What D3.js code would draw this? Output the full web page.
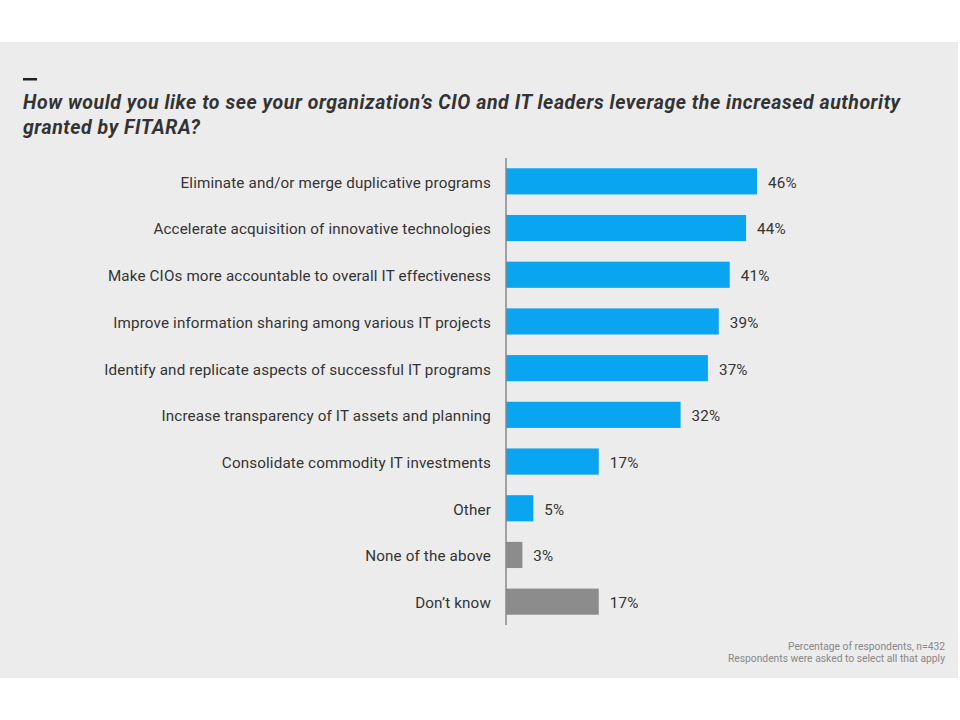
<!DOCTYPE html>
<html>
<head>
<meta charset="utf-8">
<script src="https://cdn.jsdelivr.net/npm/d3@7"></script>
<style>
  body { margin: 0; background: #fff; }
  svg { display: block; }
</style>
</head>
<body>
<div id="chart"></div>
<script>
// answers, top to bottom
var answers = [
  "Eliminate and/or merge duplicative programs",
  "Accelerate acquisition of innovative technologies",
  "Make CIOs more accountable to overall IT effectiveness",
  "Improve information sharing among various IT projects",
  "Identify and replicate aspects of successful IT programs",
  "Increase transparency of IT assets and planning",
  "Consolidate commodity IT investments",
  "Other",
  "None of the above",
  "Don\u2019t know"
];
var percents = [46, 44, 41, 39, 37, 32, 17, 5, 3, 17];
// the last two answers are drawn grey
var greyAnswers = ["None of the above", "Don\u2019t know"];

var titleLines = [
  "How would you like to see your organization\u2019s CIO and IT leaders leverage the increased authority",
  "granted by FITARA?"
];
var noteLines = [
  "Percentage of respondents, n=432",
  "Respondents were asked to select all that apply"
];

var width = 960, height = 720;
var axisX = 506;

var data = answers.map((a, i) => ({answer: a, pct: percents[i]}));

var x = d3.scaleLinear()
    .domain([0, 46])
    .range([0, 251]);

var y = d3.scaleBand()
    .domain(answers)
    .range([158, 625])
    .paddingInner(0.44)
    .paddingOuter(0.22);

function drawChart() {
  const svg = d3.select('#chart')
    .append('svg')
      .attr('width', width)
      .attr('height', height);

  // grey panel
  svg.append('rect')
      .attr('x', 0)
      .attr('y', 42)
      .attr('width', 958)
      .attr('height', 636)
      .attr('fill', '#ececec');

  // little dash above the title
  svg.append('rect')
      .attr('x', 23)
      .attr('y', 78)
      .attr('width', 14)
      .attr('height', 2.5)
      .attr('fill', '#222');

  svg.append('g')
    .selectAll('text')
    .data(titleLines)
    .join('text')
      .attr('x', 23)
      .attr('y', (d, i) => 109 + i * 25)
      .style('font-family', 'Roboto, sans-serif')
      .style('font-weight', 'bold')
      .style('font-style', 'italic')
      .style('font-size', '19.5px')
      .style('letter-spacing', '0.55px')
      .attr('fill', '#333')
      .text(d => d);

  const g = svg.append('g')
      .attr('transform', `translate(${axisX}, 0)`);

  // bars
  g.selectAll('rect.bar')
    .data(data)
    .join('rect')
      .attr('class', 'bar')
      .attr('x', 0)
      .attr('y', d => y(d.answer))
      .attr('width', d => x(d.pct))
      .attr('height', y.bandwidth())
      .attr('fill', d => greyAnswers.includes(d.answer) ? '#8c8c8c' : '#0aa5f0');

  // value labels
  g.selectAll('text.val')
    .data(data)
    .join('text')
      .attr('class', 'val')
      .attr('x', d => x(d.pct) + 11)
      .attr('y', d => y(d.answer) + y.bandwidth() / 2)
      .attr('dy', '0.42em')
      .style('font-family', 'Roboto, sans-serif')
      .style('font-size', '15.2px')
      .style('letter-spacing', '0.2px')
      .attr('fill', '#333')
      .text(d => d.pct + '%');

  // category axis on the left
  const yAxis = d3.axisLeft(y).tickSize(0).tickPadding(15);
  g.append('g')
      .call(yAxis)
      .call(a => a.select('.domain')
          .attr('stroke', '#888')
          .attr('stroke-width', 1.5)
          .attr('d', 'M0,158V625'))
      .call(a => a.selectAll('text')
          .attr('dy', '0.42em')
          .style('font-family', 'Roboto, sans-serif')
          .style('font-size', '15.2px')
          .style('letter-spacing', '0.15px')
          .attr('fill', '#333'));

  // footnote
  svg.append('g')
    .selectAll('text')
    .data(noteLines)
    .join('text')
      .attr('x', 945)
      .attr('y', (d, i) => 650 + i * 12)
      .attr('text-anchor', 'end')
      .style('font-family', 'Roboto, sans-serif')
      .style('font-size', '10.3px')
      .attr('fill', '#888')
      .text(d => d);
}

window.onload = drawChart;
</script>
</body>
</html>
